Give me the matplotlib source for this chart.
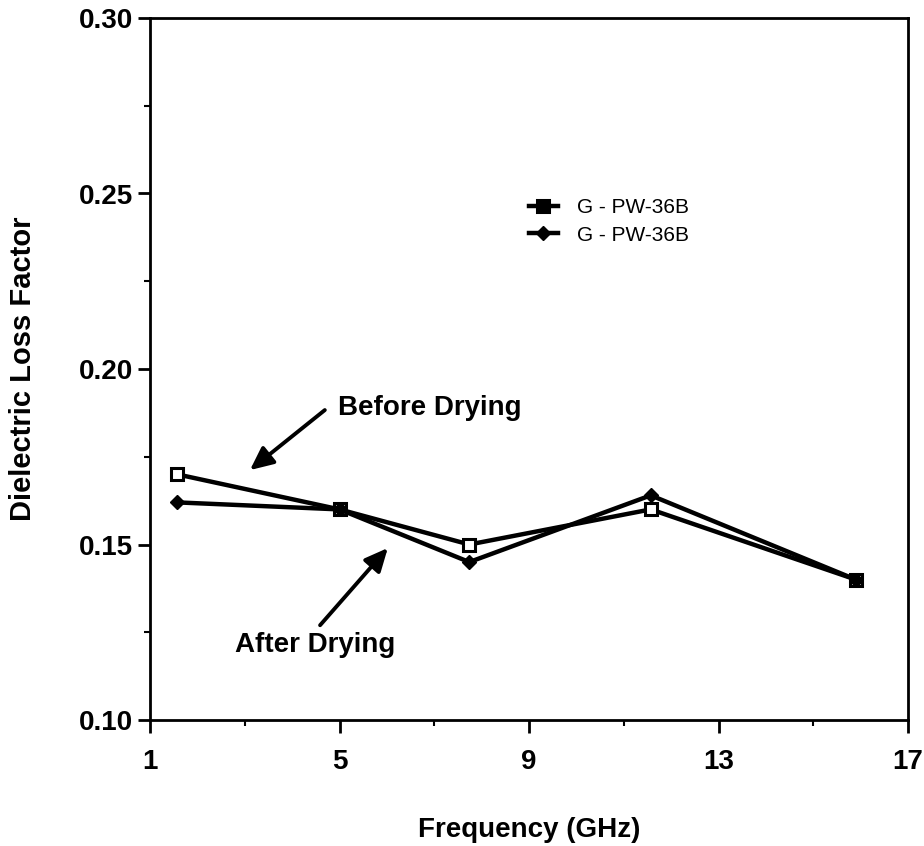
import matplotlib.pyplot as plt
from matplotlib.ticker import FixedLocator

plt.rcParams['font.family'] = ['Liberation Sans', 'DejaVu Sans']
plt.rcParams['font.weight'] = 'bold'

freq = [1.57, 5.0, 7.74, 11.57, 15.9]
before_drying = [0.170, 0.160, 0.150, 0.160, 0.140]
after_drying = [0.162, 0.160, 0.145, 0.164, 0.140]
legend_labels = ["G - PW-36B", "G - PW-36B"]
x_ticks = [1, 5, 9, 13, 17]
x_minor = [3, 7, 11, 15]
y_ticks = [0.10, 0.15, 0.20, 0.25, 0.30]
y_minor = [0.125, 0.175, 0.225, 0.275]

fig = plt.figure(figsize=(9.24, 8.46), dpi=100)
ax = fig.add_axes([150 / 924, 126 / 846, 758 / 924, 702 / 846])

ax.plot(freq, before_drying, color='black', lw=3.2, marker='s', ms=8,
        mfc='white', mec='black', mew=2.2, label=legend_labels[0])
ax.plot(freq, after_drying, color='black', lw=3.2, marker='D', ms=7,
        mfc='black', mec='black', label=legend_labels[1])

ax.set_xlim(1, 17)
ax.set_ylim(0.10, 0.30)
ax.xaxis.set_major_locator(FixedLocator(x_ticks))
ax.xaxis.set_minor_locator(FixedLocator(x_minor))
ax.yaxis.set_major_locator(FixedLocator(y_ticks))
ax.yaxis.set_minor_locator(FixedLocator(y_minor))
ax.yaxis.set_major_formatter(plt.FormatStrFormatter('%.2f'))

for s in ax.spines.values():
    s.set_linewidth(2)
ax.tick_params(which='major', direction='out', length=9, width=2, labelsize=20)
ax.tick_params(axis='x', which='major', pad=12)
ax.tick_params(axis='y', which='major', pad=3)
ax.tick_params(which='minor', direction='out', length=4, width=1.5)
for lab in ax.get_xticklabels() + ax.get_yticklabels():
    lab.set_fontweight('bold')

ax.set_xlabel("Frequency (GHz)", fontsize=20, fontweight='bold', labelpad=30)
ax.set_ylabel("Dielectric Loss Factor", fontsize=21, fontweight='bold', labelpad=30)

leg = ax.legend(loc='upper left', bbox_to_anchor=(0.475, 0.77), frameon=False,
                fontsize=15, handlelength=1.4, labelspacing=0.4,
                handletextpad=0.9)
for t in leg.get_texts():
    t.set_fontweight('normal')
leg.legend_handles[0].set_markerfacecolor('black')

arrow = dict(arrowstyle='-|>,head_length=1.4,head_width=0.65',
             color='black', lw=2.8, shrinkA=0, shrinkB=0)
ax.annotate("", xy=(3.11, 0.1712), xytext=(4.69, 0.1883), arrowprops=arrow)
ax.annotate("", xy=(6.02, 0.149), xytext=(4.59, 0.127), arrowprops=arrow)
ax.text(4.97, 0.1889, "Before Drying", fontsize=20, fontweight='bold', va='center')
ax.text(2.79, 0.1214, "After Drying", fontsize=20, fontweight='bold', va='center')

fig.savefig("out.png", dpi=100)
